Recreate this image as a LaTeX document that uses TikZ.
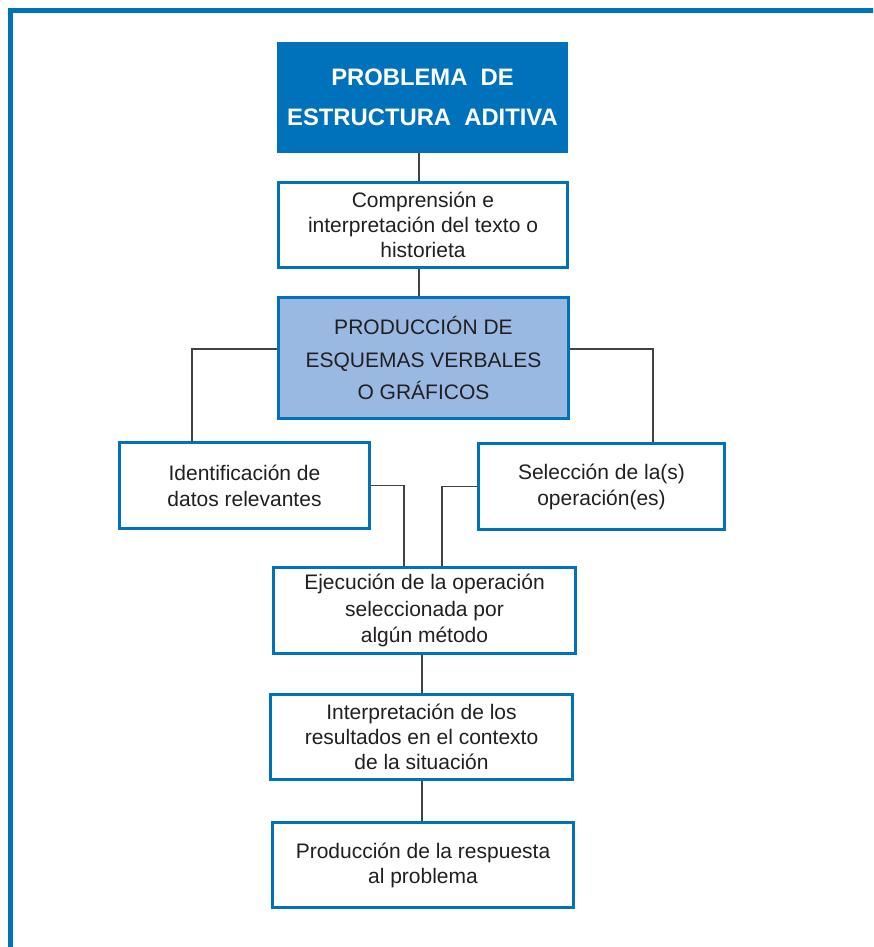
\documentclass[tikz,border=0pt]{standalone}
\usepackage{fontspec}
\setmainfont{Liberation Sans}
\usetikzlibrary{positioning}
\definecolor{frameblue}{HTML}{0072BC}
\definecolor{lightfill}{HTML}{99B9E2}
\definecolor{inkgray}{HTML}{231F20}

\begin{document}
\begin{tikzpicture}[x=1pt, y=-1pt,
      box/.style={draw=frameblue, line width=3pt, fill=white, align=center, inner sep=0pt, text=inkgray, font=\fontsize{21}{25}\selectfont},
      link/.style={draw=inkgray!85, line width=1.3pt}
    ]
      \clip (0,0) rectangle (873,947);
      \fill[white] (0,0) rectangle (873,947);
      % outer frame, left and top edges only
      \draw[frameblue, line width=5pt] (10.5,990) -- (10.5,10.5) -- (900,10.5);

      \node[box, fill=frameblue, text=white, minimum width=288, minimum height=108,
            font=\bfseries\fontsize{23.8}{40}\selectfont] (prob) at (422.5,97.5)
            {PROBLEMA~~DE\\ESTRUCTURA~~ADITIVA};
      \node[box, minimum width=289, minimum height=85] (compr) at (423,225)
            {Comprensión e\\interpretación del texto o\\historieta};
      \node[box, fill=lightfill, minimum width=290, minimum height=121,
            font=\fontsize{21}{32.5}\selectfont] (esq) at (423.5,358)
            {PRODUCCIÓN DE\\ESQUEMAS VERBALES\\O GRÁFICOS};
      \node[box, minimum width=250, minimum height=86,
            font=\fontsize{21}{26}\selectfont] (datos) at (244.5,485.5)
            {Identificación de\\datos relevantes};
      \node[box, minimum width=246, minimum height=86,
            font=\fontsize{21}{26}\selectfont] (selec) at (601.5,486.5)
            {Selección de la(s)\\operación(es)};
      \node[box, minimum width=302, minimum height=86,
            font=\fontsize{21}{26.5}\selectfont] (ejec) at (424.5,610.5)
            {Ejecución de la operación\\seleccionada por\\algún método};
      \node[box, minimum width=302, minimum height=85] (interp) at (421.5,737)
            {Interpretación de los\\resultados en el contexto\\de la situación};
      \node[box, minimum width=301, minimum height=85] (resp) at (423,865)
            {Producción de la respuesta\\al problema};

      \draw[link] (prob.south -| 419,0) -- (compr.north -| 419,0);
      \draw[link] (compr.south -| 419,0) -- (esq.north -| 419,0);
      \draw[link] ([yshift=9pt]esq.west) -| (datos.north -| 192,0);
      \draw[link] ([yshift=9pt]esq.east) -| (selec.north -| 653,0);
      \draw[link] (datos.east) -| (ejec.north -| 404,0);
      \draw[link] (selec.west) -| (ejec.north -| 442,0);
      \draw[link] (ejec.south -| 422,0) -- (interp.north -| 422,0);
      \draw[link] (interp.south -| 422,0) -- (resp.north -| 422,0);
    \end{tikzpicture}
\end{document}
